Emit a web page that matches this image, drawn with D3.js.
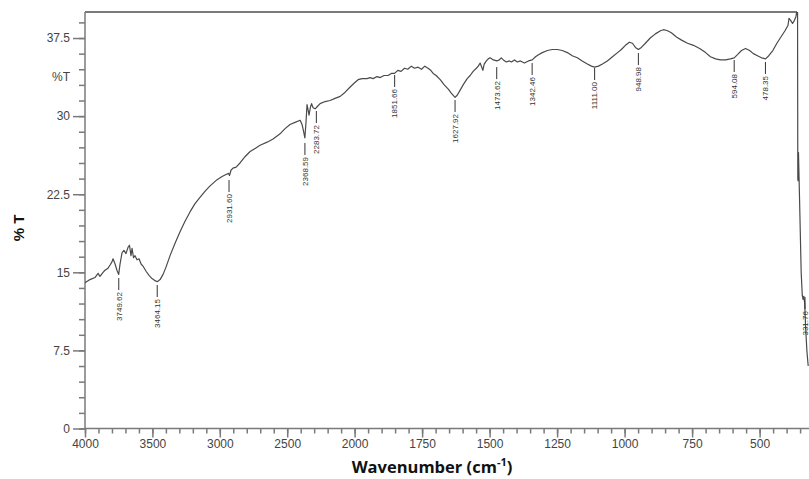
<!DOCTYPE html>
<html><head><meta charset="utf-8">
<script src="https://cdn.jsdelivr.net/npm/d3@7"></script>
<style>body{margin:0;background:#fff}svg{display:block}</style>
</head><body>
<svg id="c" width="809" height="479"></svg>
<script>
// Spectrum [wavenumber cm-1, %T]
const spectrum = [
[4000,14.0],[3963,14.3],[3926,14.5],[3903,14.9],[3889,14.6],[3866,15.0],[3852,15.2],[3829,15.4],[3814,15.7],[3800,16.0],[3792,16.3],[3777,15.8],[3763,15.2],[3750,14.8],[3740,15.8],[3725,16.9],[3711,17.1],[3696,16.8],[3681,17.4],[3670,17.6],[3659,16.6],[3651,17.3],[3640,16.4],[3629,16.6],[3614,16.2],[3599,16.3],[3584,15.8],[3570,15.6],[3547,15.1],[3525,14.7],[3503,14.4],[3480,14.2],[3464,14.1],[3443,14.3],[3421,14.8],[3399,15.5],[3369,16.6],[3332,17.8],[3295,18.9],[3258,19.9],[3221,20.8],[3184,21.6],[3147,22.2],[3109,22.8],[3072,23.3],[3020,23.9],[2983,24.2],[2954,24.4],[2935,24.5],[2928,24.3],[2917,24.8],[2902,25.0],[2879,25.1],[2850,25.5],[2813,26.1],[2775,26.6],[2738,26.9],[2701,27.2],[2649,27.5],[2605,27.8],[2553,28.3],[2516,28.8],[2479,29.2],[2442,29.4],[2404,29.6],[2390,29.2],[2378,28.5],[2369,27.9],[2360,29.5],[2353,31.1],[2345,30.6],[2338,30.1],[2327,30.9],[2319,31.2],[2308,30.8],[2293,30.7],[2278,30.9],[2256,31.2],[2219,31.4],[2182,31.5],[2145,31.7],[2107,31.9],[2070,32.3],[2033,32.8],[2000,33.2],
[1987,33.5],[1972,33.6],[1954,33.6],[1943,33.7],[1931,33.6],[1917,33.8],[1905,33.7],[1891,33.9],[1876,33.9],[1864,34.1],[1852,34.1],[1840,34.4],[1828,34.3],[1815,34.6],[1803,34.5],[1790,34.8],[1778,34.6],[1765,34.7],[1752,34.5],[1740,34.8],[1728,34.6],[1718,34.4],[1709,34.1],[1698,33.9],[1683,33.5],[1668,33.0],[1653,32.6],[1642,32.2],[1628,31.8],[1620,32.0],[1609,32.5],[1598,33.0],[1583,33.6],[1572,33.9],[1561,34.3],[1549,34.6],[1542,34.8],[1535,35.1],[1529,34.7],[1525,34.4],[1520,35.0],[1512,35.3],[1505,35.5],[1498,35.6],[1486,35.4],[1473,35.3],[1464,35.4],[1457,35.6],[1449,35.4],[1438,35.2],[1427,35.3],[1419,35.2],[1408,35.4],[1397,35.2],[1386,35.3],[1371,35.1],[1356,35.3],[1342,35.4],[1330,35.7],[1319,35.9],[1305,36.1],[1286,36.3],[1268,36.4],[1249,36.4],[1231,36.3],[1212,36.1],[1194,35.8],[1175,35.6],[1157,35.3],[1138,35.0],[1123,34.8],[1111,34.7],[1097,34.8],[1082,35.0],[1064,35.3],[1045,35.7],[1026,36.1],[1012,36.4],[997,36.8],[982,37.1],[971,37.0],[960,36.6],[949,36.4],[938,36.6],[923,37.0],[905,37.5],[886,37.9],[867,38.2],[856,38.3],[841,38.2],[827,38.0],[808,37.6],[789,37.3],[767,37.0],[745,36.8],[722,36.5],[700,36.1],[682,35.7],[663,35.5],[645,35.4],[626,35.4],[608,35.5],[594,35.6],[582,35.9],[567,36.3],[552,36.5],[537,36.3],[523,36.0],[508,35.8],[493,35.6],[478,35.5],[466,35.8],[451,36.3],[436,37.0],[421,37.6],[406,38.2],[395,38.7],[391,39.4],[385,39.2],[378,38.9],[371,39.2],[365,39.6],[360,40.5],[359.5,41],[358.5,24],[357.5,23.8],[356,26.5],[352,22],[346,15],[342,12.8],[339,12.4],[336,12.7],[333,12.0],[330,10],[325,7.5],[320,6]
];
// Peak picks [wavenumber, %T]
const peakWn = [3749.62,3464.15,2931.60,2368.59,2283.72,1851.66,1627.92,1473.62,1342.46,1111.00,948.98,594.08,478.35,331.76];
const peakT  = [14.93,14.26,24.34,27.9,30.97,34.43,32.03,35.19,35.58,35.1,36.54,35.87,35.68,13.1];
const peakLabels = ["3749.62","3464.15","2931.60","2368.59","2283.72","1851.66","1627.92","1473.62","1342.46","1111.00","948.98","594.08","478.35","331.76"];
const xMajor = [4000,3500,3000,2500,2000,1750,1500,1250,1000,750,500];
const xMinor = d3.range(4000,2000,-100).concat(d3.range(2000,340,-50));
const yMajor = [0,7.5,15,22.5,30,37.5];
const yMinor = d3.range(0,39.01,1.5);
const yUnitLabel = [33.75,"%T"];

const svg = d3.select("#c");
const L = 85, T = 12, B = 428.5;
const x = d3.scaleLinear().domain([4000,2000,300]).range([L,354.6,354.6+1700*0.27]);
const y = d3.scaleLinear().domain([0,40]).range([B,T]);
const axisColor = "#7a7a7a", textColor = "#444";

svg.append("defs").append("clipPath").attr("id","clip")
  .append("rect").attr("x",L).attr("y",T).attr("width",809-L).attr("height",B-T);

// frame top
svg.append("line").attr("x1",L).attr("x2",797).attr("y1",T).attr("y2",T)
  .attr("stroke",axisColor).attr("stroke-width",2);

// x axis
const gx = svg.append("g").attr("transform",`translate(0,${B})`);
gx.call(d3.axisBottom(x).tickValues(xMinor).tickSize(5).tickSizeOuter(0).tickFormat(""));
const gx2 = svg.append("g").attr("transform",`translate(0,${B})`);
gx2.call(d3.axisBottom(x).tickValues(xMajor).tickSize(9).tickSizeOuter(0).tickFormat(d3.format("d")));
gx2.select(".domain").remove();
[gx,gx2].forEach(g=>{
  g.selectAll("path,line").attr("stroke",axisColor).attr("stroke-width",1.5);
  g.selectAll("text").attr("fill",textColor).attr("font-family","Liberation Sans, Arial, sans-serif").attr("font-size",12).attr("dy","0.71em").attr("y",11);
});
gx.select(".domain").attr("d",`M${L},0H809`);

// y axis
const gy = svg.append("g").attr("transform",`translate(${L},0)`);
gy.call(d3.axisLeft(y).tickValues(yMinor).tickSize(6).tickSizeOuter(0).tickFormat(""));
const gy2 = svg.append("g").attr("transform",`translate(${L},0)`);
gy2.call(d3.axisLeft(y).tickValues(yMajor).tickSize(12).tickSizeOuter(0).tickFormat(d=>d));
gy2.select(".domain").remove();
[gy,gy2].forEach(g=>{
  g.selectAll("path,line").attr("stroke",axisColor).attr("stroke-width",1.5);
  g.selectAll("text").attr("fill",textColor).attr("font-family","Liberation Sans, Arial, sans-serif").attr("font-size",12).attr("x",-15);
});
gy.select(".domain").attr("d",`M0,${T}V${B}`);
svg.append("text").attr("x",L-15).attr("y",y(yUnitLabel[0])).attr("dy","0.32em")
  .attr("text-anchor","end").attr("fill",textColor)
  .attr("font-family","Liberation Sans, Arial, sans-serif").attr("font-size",12).text(yUnitLabel[1]);

// spectrum
svg.append("path").datum(spectrum).attr("clip-path","url(#clip)")
  .attr("d",d3.line().x(d=>x(d[0])).y(d=>y(d[1])))
  .attr("fill","none").attr("stroke","#4a4a4a").attr("stroke-width",1.2).attr("stroke-linejoin","round");

// peak labels
const pg = svg.append("g");
peakWn.forEach((w,i)=>{
  const px = x(w), py = y(peakT[i]) + 5;
  pg.append("line").attr("x1",px).attr("x2",px).attr("y1",py).attr("y2",py+12)
    .attr("stroke","#333").attr("stroke-width",1);
  pg.append("text").attr("transform",`translate(${px},${py+14}) rotate(-90)`)
    .attr("text-anchor","end").attr("dy","0.35em")
    .attr("font-family","Liberation Sans, Arial, sans-serif").attr("font-size",8)
    .attr("fill","#333").text(peakLabels[i]);
});

// axis titles
const xt = svg.append("text").attr("x",432).attr("y",473).attr("text-anchor","middle")
  .attr("font-family","Open Sans, sans-serif").attr("font-weight","bold").attr("font-size",16.5).attr("fill","#111");
xt.append("tspan").text("Wavenumber (cm");
xt.append("tspan").attr("dy",-7).attr("font-size",11).text("-1");
xt.append("tspan").attr("dy",7).text(")");
svg.append("text").attr("transform","translate(24,228) rotate(-90)").attr("text-anchor","middle")
  .attr("font-family","Liberation Sans, Arial, sans-serif").attr("font-weight","bold").attr("font-size",15).attr("fill","#111").text("% T");
</script>
</body></html>
